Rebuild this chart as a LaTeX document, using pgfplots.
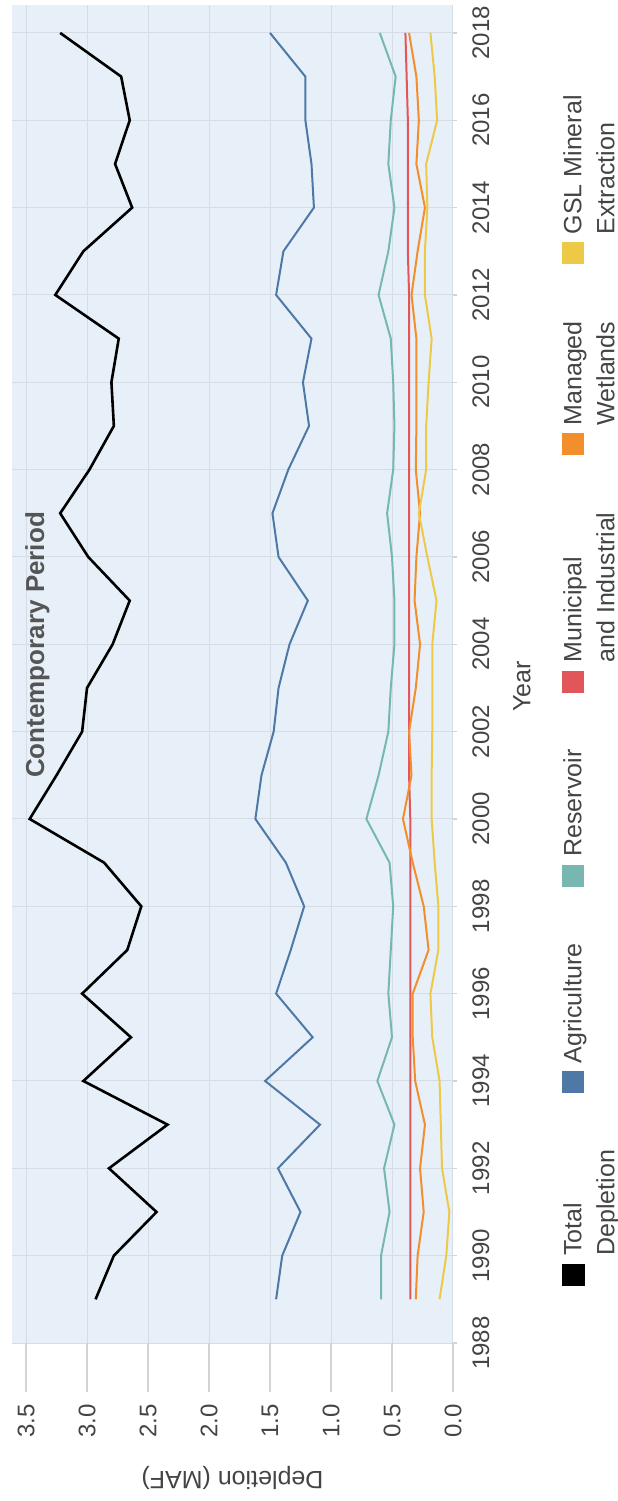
\documentclass[border=0pt]{standalone}
\usepackage{fontspec}
\setmainfont{Liberation Sans}
\usepackage{pgfplots}
\pgfplotsset{compat=1.18}
\usepackage{pgfplotstable}

\definecolor{agri}{HTML}{4E79A7}
\definecolor{resv}{HTML}{76B7B2}
\definecolor{muni}{HTML}{E15759}
\definecolor{wetl}{HTML}{F28E2B}
\definecolor{gsl}{HTML}{EDC948}
\definecolor{panel}{HTML}{E7F0F9}
\definecolor{gridc}{HTML}{D5DCE4}
\definecolor{tickc}{HTML}{D3D3D3}
\definecolor{labc}{HTML}{444444}
\definecolor{notec}{HTML}{555555}

% Annual depletion by use, million acre-feet
\pgfplotstableread{
year total agri  resv  muni wetl  gsl
1989 2.93  1.45  0.59  0.35 0.305 0.11
1990 2.78  1.40  0.59  0.35 0.29  0.055
1991 2.43  1.25  0.52  0.35 0.24  0.03
1992 2.82  1.435 0.565 0.35 0.27  0.09
1993 2.34  1.09  0.48  0.35 0.23  0.10
1994 3.03  1.54  0.62  0.35 0.31  0.11
1995 2.64  1.15  0.50  0.35 0.33  0.17
1996 3.04  1.45  0.53  0.35 0.33  0.185
1997 2.67  1.33  0.51  0.35 0.20  0.12
1998 2.555 1.22  0.49  0.35 0.24  0.12
1999 2.86  1.37  0.52  0.35 0.33  0.15
2000 3.47  1.62  0.71  0.35 0.41  0.175
2001 3.25  1.57  0.61  0.36 0.34  0.175
2002 3.04  1.47  0.53  0.36 0.36  0.17
2003 3.00  1.43  0.51  0.36 0.305 0.17
2004 2.79  1.34  0.48  0.36 0.27  0.17
2005 2.65  1.19  0.48  0.36 0.315 0.135
2006 2.99  1.43  0.50  0.36 0.30  0.21
2007 3.22  1.48  0.54  0.36 0.27  0.28
2008 2.98  1.35  0.49  0.36 0.305 0.22
2009 2.78  1.18  0.48  0.36 0.30  0.22
2010 2.80  1.23  0.49  0.36 0.30  0.20
2011 2.74  1.16  0.51  0.36 0.30  0.175
2012 3.26  1.45  0.61  0.36 0.34  0.23
2013 3.03  1.39  0.53  0.37 0.29  0.23
2014 2.63  1.14  0.48  0.37 0.23  0.21
2015 2.77  1.16  0.53  0.37 0.30  0.22
2016 2.65  1.21  0.51  0.37 0.28  0.13
2017 2.72  1.21  0.47  0.38 0.30  0.15
2018 3.22  1.50  0.60  0.39 0.36  0.185
}\depletion

\begin{document}
\begin{tikzpicture}[rotate=90, transform shape]
\path[use as bounding box] (0pt,0pt) rectangle (750.5pt,308.5pt);
\begin{axis}[
  at={(79pt,82pt)}, anchor=south west,
  scale only axis, width=669pt, height=220.5pt,
  xmin=1988, xmax=2018.64, ymin=0, ymax=3.615,
  xtick={1988,1990,...,2018},
  ytick={0,0.5,1,1.5,2,2.5,3,3.5},
  grid=major,
  grid style={gridc, line width=0.5pt},
  major tick style={draw=none},
  axis line style={draw=none},
  axis background/.style={fill=panel},
  clip=false,
  scaled y ticks=false,
  /pgf/number format/assume math mode=true,
  xticklabel style={/pgf/number format/1000 sep={}, anchor=north, inner sep=0pt, yshift=-9.5pt},
  yticklabel style={/pgf/number format/.cd, fixed, fixed zerofill, precision=1, /tikz/.cd, anchor=east, inner sep=0pt, xshift=-30.5pt},
  tick label style={font=\fontsize{12}{14}\selectfont, color=labc},
  xlabel={Year},
  ylabel={Depletion (MAF)},
  every axis x label/.style={at={(axis description cs:0.4907,-0.1565)}, anchor=center, inner sep=0pt, font=\fontsize{12.5}{15}\selectfont, color=labc},
  every axis y label/.style={at={(axis description cs:-0.1009,0.5)}, rotate=90, anchor=center, inner sep=0pt, font=\fontsize{12.5}{15}\selectfont, color=labc},
  legend columns=6,
  legend cell align=left,
  legend image code/.code={\fill[#1] (0pt,0pt) rectangle (10pt,-10pt);},
  legend style={
    at={(axis description cs:0.0424,-0.2472)}, anchor=north west,
    draw=none, fill=none, inner sep=0pt, outer sep=0pt,
    cells={anchor=north west},
    nodes={align=left, inner sep=0pt, text depth=0pt, font=\fontsize{12.5}{16.5}\selectfont, text=labc},
    /tikz/every odd column/.append style={column sep=4pt},
    /tikz/every even column/.append style={column sep=28.5pt},
  },
]
% tick stubs running out of the panel
\pgfplotsinvokeforeach{0,0.5,1,1.5,2,2.5,3,3.5}{
  \draw[tickc, line width=0.6pt] (axis cs:1988,#1) -- ++(-24.5pt,0pt);
}
\pgfplotsinvokeforeach{1988,1990,...,2018}{
  \draw[tickc, line width=0.6pt] (axis cs:#1,0) -- ++(0pt,-2pt);
}

\addplot[black, line width=1.3pt] table[x=year, y=total] {\depletion};
\addlegendentry{Total\\Depletion}
\addplot[agri, line width=1pt] table[x=year, y=agri] {\depletion};
\addlegendentry{Agriculture}
\addplot[resv, line width=1pt] table[x=year, y=resv] {\depletion};
\addlegendentry{Reservoir}
\addplot[muni, line width=1pt] table[x=year, y=muni] {\depletion};
\addlegendentry{Municipal\\and Industrial}
\addplot[wetl, line width=1pt] table[x=year, y=wetl] {\depletion};
\addlegendentry{Managed\\Wetlands}
\addplot[gsl, line width=1pt] table[x=year, y=gsl] {\depletion};
\addlegendentry{GSL Mineral\\Extraction}

\node[anchor=north, inner sep=0pt, font=\bfseries\fontsize{13}{15}\selectfont, text=notec]
  at (axis description cs:0.5217,0.9705) {Contemporary Period};
\end{axis}
\end{tikzpicture}
\end{document}
